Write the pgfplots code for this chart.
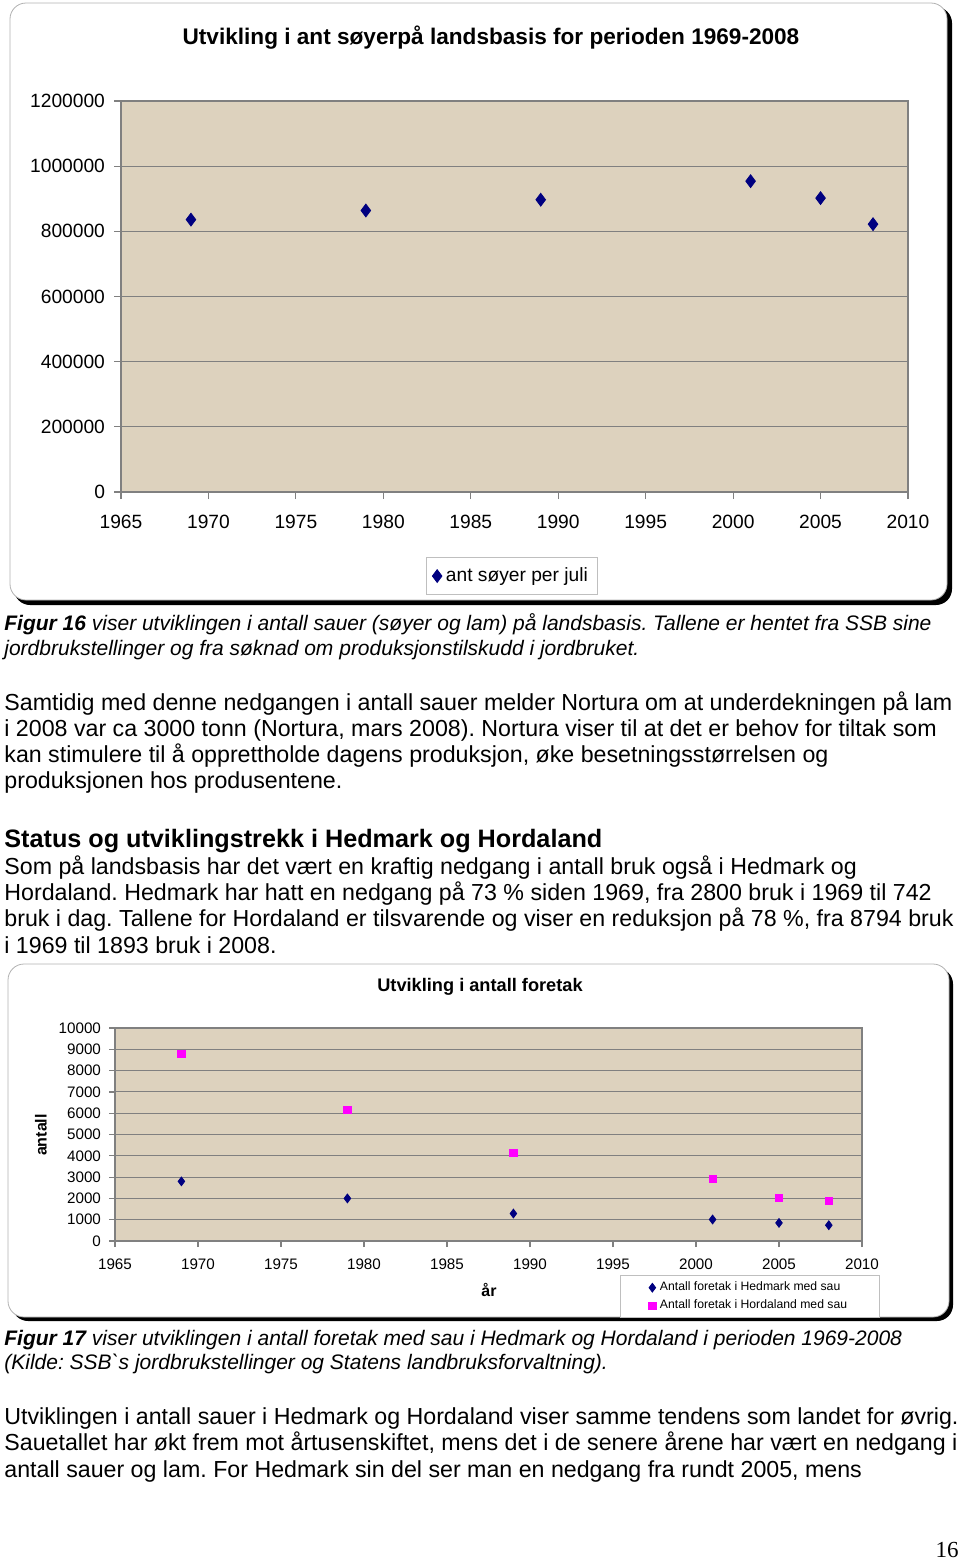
\documentclass[border=0pt]{standalone}
\usepackage{fontspec}
\setmainfont{Liberation Sans}
\newfontfamily\serifpn{Liberation Serif}
\usepackage{pgfplots}
\pgfplotsset{compat=1.18}
\definecolor{bgtan}{RGB}{221,210,190}
\definecolor{navy}{RGB}{0,0,128}
\definecolor{mag}{RGB}{255,0,255}
\definecolor{gridc}{RGB}{128,128,128}
\newcommand\fs[1]{\fontsize{#1}{#1}\selectfont}
\newcommand\tl[2]{\node[anchor=base west,inner sep=0pt] at (4,#1) {\fs{11.6}#2};}
\newcommand\cl[2]{\node[anchor=base west,inner sep=0pt] at (4,#1) {\fs{10.5}\itshape #2};}
\begin{document}
\frenchspacing
\begin{tikzpicture}[x=0.5pt,y=-0.5pt]
\path[use as bounding box] (0,0) rectangle (960,1559);
\coordinate (A1) at (121,492);
\coordinate (A2) at (115,1241);
% ---------- frame 1
\fill[black, rounded corners=8pt] (14,7) rectangle (952,605);
\filldraw[fill=white, draw=gray!60, rounded corners=8pt] (10,3) rectangle (947,600);
\node[font=\fs{11.3}\bfseries] at (491,38) {Utvikling i ant søyerpå landsbasis for perioden 1969-2008};
\begin{axis}[
  at={(A1)}, anchor=south west, scale only axis,
  width=393.5pt, height=195.5pt,
  xmin=1965, xmax=2010, ymin=0, ymax=1200000,
  xtick={1965,1970,...,2010}, ytick={0,200000,...,1200000},
  xtick pos=bottom, ytick pos=left,
  scaled y ticks=false,
  /pgf/number format/fixed,
  /pgf/number format/precision=0,
  /pgf/number format/1000 sep={},
  /pgf/number format/assume math mode=true,
  axis background/.style={fill=bgtan},
  ymajorgrids, major grid style={draw=gridc, line width=0.5pt},
  axis line style={draw=gridc, line width=0.6pt},
  tick style={draw=gridc, line width=0.6pt},
  tick align=outside, major tick length=3.5pt,
  tick label style={font=\fs{9.6}},
  xticklabel style={yshift=-4.5pt},
  yticklabel style={xshift=-1pt},
  legend style={at={(axis description cs:0.497,-0.215)}, anchor=center,
    draw=gray!50, font=\fs{9.6}, inner xsep=3pt, inner ysep=3pt},
]
\addplot[only marks, mark=diamond*, mark size=3.2pt, color=navy] coordinates {
 (1969,836000) (1979,864000) (1989,897000) (2001,954000) (2005,902000) (2008,822000)};
\addlegendentry{ant søyer per juli}
\end{axis}
% ---------- text block 1
\cl{630}{\textbf{Figur 16} viser utviklingen i antall sauer (søyer og lam) på landsbasis. Tallene er hentet fra SSB sine}
\cl{655}{jordbrukstellinger og fra søknad om produksjonstilskudd i jordbruket.}
\tl{710}{Samtidig med denne nedgangen i antall sauer melder Nortura om at underdekningen på lam}
\tl{736}{i 2008 var ca 3000 tonn (Nortura, mars 2008). Nortura viser til at det er behov for tiltak som}
\tl{762}{kan stimulere til å opprettholde dagens produksjon, øke besetningsstørrelsen og}
\tl{788}{produksjonen hos produsentene.}
\node[anchor=base west,inner sep=0pt] at (4,847) {\fs{12.6}\bfseries Status og utviklingstrekk i Hedmark og Hordaland};
\tl{874}{Som på landsbasis har det vært en kraftig nedgang i antall bruk også i Hedmark og}
\tl{900}{Hordaland. Hedmark har hatt en nedgang på 73 \% siden 1969, fra 2800 bruk i 1969 til 742}
\tl{926}{bruk i dag. Tallene for Hordaland er tilsvarende og viser en reduksjon på 78 \%, fra 8794 bruk}
\tl{953}{i 1969 til 1893 bruk i 2008.}
% ---------- frame 2
\fill[black, rounded corners=8pt] (12,968) rectangle (953,1321);
\filldraw[fill=white, draw=gray!60, rounded corners=8pt] (8,964) rectangle (949,1317);
\node[font=\fs{9.1}\bfseries] at (480,987) {Utvikling i antall foretak};
\node[font=\fs{8}\bfseries, rotate=90] at (41,1135) {antall};
\node[font=\fs{8}\bfseries] at (489,1290) {år};
\begin{axis}[
  at={(A2)}, anchor=south west, scale only axis,
  width=373.5pt, height=106.5pt,
  xmin=1965, xmax=2010, ymin=0, ymax=10000,
  xtick={1965,1970,...,2010}, ytick={0,1000,...,10000},
  xtick pos=bottom, ytick pos=left,
  scaled y ticks=false,
  /pgf/number format/fixed,
  /pgf/number format/precision=0,
  /pgf/number format/1000 sep={},
  /pgf/number format/assume math mode=true,
  axis background/.style={fill=bgtan},
  ymajorgrids, major grid style={draw=gridc, line width=0.5pt},
  axis line style={draw=gridc, line width=0.6pt},
  tick style={draw=gridc, line width=0.6pt},
  tick align=outside, major tick length=3pt,
  tick label style={font=\fs{7.6}},
  xticklabel style={yshift=-2.5pt},
  yticklabel style={xshift=-0.5pt},
  legend style={at={(axis description cs:0.85,-0.261)}, anchor=center,
    draw=gray!50, font=\fs{6.1}, inner xsep=14pt, inner ysep=1pt,
    row sep=-1pt},
  legend cell align=left,
]
\addplot[only marks, mark=diamond*, mark size=2.2pt, color=navy] coordinates {
 (1969,2800) (1979,2000) (1989,1290) (2001,1010) (2005,850) (2008,742)};
\addlegendentry{Antall foretak i Hedmark med sau}
\addplot[only marks, mark=square*, mark size=1.8pt, color=mag] coordinates {
 (1969,8794) (1979,6170) (1989,4140) (2001,2920) (2005,2030) (2008,1893)};
\addlegendentry{Antall foretak i Hordaland med sau}
\end{axis}
% ---------- text block 2
\cl{1345}{\textbf{Figur 17} viser utviklingen i antall foretak med sau i Hedmark og Hordaland i perioden 1969-2008}
\cl{1369}{(Kilde: SSB\textasciigrave s jordbrukstellinger og Statens landbruksforvaltning).}
\tl{1424}{Utviklingen i antall sauer i Hedmark og Hordaland viser samme tendens som landet for øvrig.}
\tl{1450}{Sauetallet har økt frem mot årtusenskiftet, mens det i de senere årene har vært en nedgang i}
\tl{1477}{antall sauer og lam. For Hedmark sin del ser man en nedgang fra rundt 2005, mens}
\node[anchor=base east,inner sep=0pt] at (959,1557) {\serifpn\fs{11.5}16};
\end{tikzpicture}
\end{document}
